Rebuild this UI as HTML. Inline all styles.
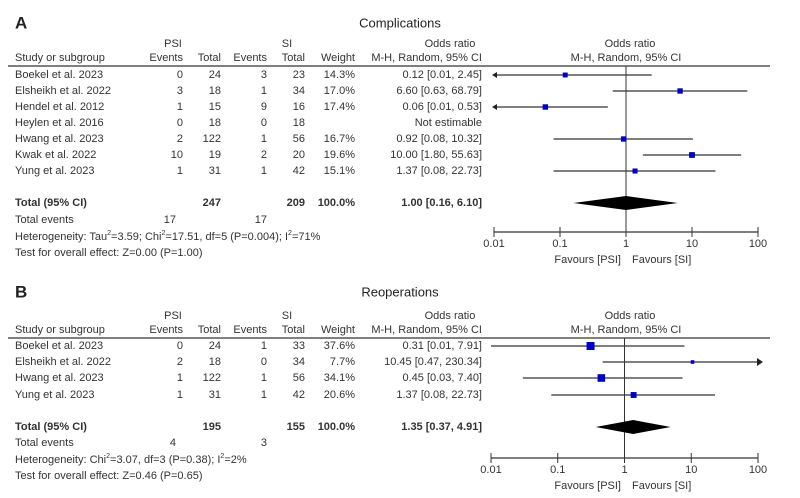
<!DOCTYPE html>
<html><head><meta charset="utf-8"><style>
body{margin:0;background:#fff}
svg{display:block;font-family:"Liberation Sans",sans-serif;font-size:11px;fill:#333}
text{dominant-baseline:central}
</style></head><body>
<svg id="chart" width="800" height="498" viewBox="0 0 800 498"></svg>
<script>
// Panel A data
const aStudies=["Boekel et al. 2023","Elsheikh et al. 2022","Hendel et al. 2012","Heylen et al. 2016","Hwang et al. 2023","Kwak et al. 2022","Yung et al. 2023"];
const aPsiEv=[0,3,1,0,2,10,1];
const aPsiTot=[24,18,15,18,122,19,31];
const aSiEv=[3,1,9,0,1,2,1];
const aSiTot=[23,34,16,18,56,20,42];
const aWeight=[14.3,17.0,17.4,null,16.7,19.6,15.1];
const aOR=[0.12,6.60,0.06,null,0.92,10.00,1.37];
const aLo=[0.01,0.63,0.01,null,0.08,1.80,0.08];
const aHi=[2.45,68.79,0.53,null,10.32,55.63,22.73];
const aTotal=[1.00,0.16,6.10];
const aSums=[247,209,17,17];
// Panel B data
const bStudies=["Boekel et al. 2023","Elsheikh et al. 2022","Hwang et al. 2023","Yung et al. 2023"];
const bPsiEv=[0,2,1,1];
const bPsiTot=[24,18,122,31];
const bSiEv=[1,0,1,1];
const bSiTot=[33,34,56,42];
const bWeight=[37.6,7.7,34.1,20.6];
const bOR=[0.31,10.45,0.45,1.37];
const bLo=[0.01,0.47,0.03,0.08];
const bHi=[7.91,230.34,7.40,22.73];
const bTotal=[1.35,0.37,4.91];
const bSums=[195,155,4,3];
const ticks=[0.01,0.1,1,10,100];
const tickLabels=["0.01","0.1","1","10","100"];

const svg=document.getElementById('chart');
const NS="http://www.w3.org/2000/svg";
function el(tag,attrs,parent){const e=document.createElementNS(NS,tag);for(const k in attrs)e.setAttribute(k,attrs[k]);(parent||svg).appendChild(e);return e;}
function txt(x,y,s,anchor,name,extra){const t=el('text',Object.assign({x:x,y:y,'text-anchor':anchor||'start'},extra||{}));t.textContent=s;


return t;}
const fmt=v=>v.toFixed(2);

function panel(o){
  const xs=v=>o.x1+(Math.log10(v)+2)/4*(o.x100-o.x1);
  txt(15,o.labelY,o.letter,'start','panel-letter',{'font-size':'17','font-weight':'bold',fill:'#222'});
  txt(400,o.labelY,o.title,'middle','panel-title',{'font-size':'13',fill:'#222'});
  txt(173,o.h1,'PSI','middle','psi-header');
  txt(287,o.h1,'SI','middle','si-header');
  txt(630,o.h1,'Odds ratio','middle','plot-header');
  txt(450,o.h1,'Odds ratio','middle','or-header');
  txt(15,o.h2,'Study or subgroup','start','study-header');
  txt(183,o.h2,'Events','end','psi-events-header');
  txt(221,o.h2,'Total','end','psi-total-header');
  txt(267,o.h2,'Events','end','si-events-header');
  txt(305,o.h2,'Total','end','si-total-header');
  txt(355,o.h2,'Weight','end','weight-header');
  txt(482,o.h2,'M-H, Random, 95% CI','end','or-method-header');
  txt(626,o.h2,'M-H, Random, 95% CI','middle','plot-method-header');
  const hl=el('line',{x1:8,x2:770,y1:o.line,y2:o.line,stroke:'#333','stroke-width':1.2});
  
  const zl=el('line',{x1:xs(1),x2:xs(1),y1:o.line,y2:o.axisY,stroke:'#333','stroke-width':1});
  
  o.studies.forEach((s,i)=>{
    const y=o.rows[i];
    txt(15,y,s,'start','study-name');
    txt(183,y,String(o.pe[i]),'end','psi-events');
    txt(221,y,String(o.pt[i]),'end','psi-total');
    txt(267,y,String(o.se[i]),'end','si-events');
    txt(305,y,String(o.st[i]),'end','si-total');
    if(o.or[i]==null){txt(482,y,'Not estimable','end','effect-estimate');return;}
    txt(355,y,o.w[i].toFixed(1)+'%','end','weight-value');
    txt(482,y,fmt(o.or[i])+' ['+fmt(o.lo[i])+', '+fmt(o.hi[i])+']','end','effect-estimate');
    let lx=xs(o.lo[i]),hx=xs(o.hi[i]);const minx=xs(0.01),maxx=xs(100);
    const la=o.leftArrow?lx<=minx+0.5:lx<minx,ra=hx>maxx;
    lx=Math.max(lx,minx);
    hx=Math.min(hx,maxx+2);
    const ci=el('line',{x1:lx,x2:hx,y1:y,y2:y,stroke:'#333','stroke-width':1.2});
    
    if(la){const a=el('polygon',{points:`${lx-2},${y} ${lx+3},${y-3} ${lx+3},${y+3}`,fill:'#222'});}
    if(ra){const a=el('polygon',{points:`${hx+3},${y} ${hx-3},${y-4} ${hx-3},${y+4}`,fill:'#222'});}
    const sz=Math.sqrt(o.w[i])*o.sq;
    const r=el('rect',{x:xs(o.or[i])-sz/2,y:y-sz/2,width:sz,height:sz,fill:'#0000c0'});
    
  });
  txt(15,o.totY,'Total (95% CI)','start','total-label',{'font-weight':'bold'});
  txt(221,o.totY,String(o.sums[0]),'end','psi-total-sum',{'font-weight':'bold'});
  txt(305,o.totY,String(o.sums[1]),'end','si-total-sum',{'font-weight':'bold'});
  txt(355,o.totY,'100.0%','end','weight-sum',{'font-weight':'bold'});
  txt(482,o.totY,fmt(o.tot[0])+' ['+fmt(o.tot[1])+', '+fmt(o.tot[2])+']','end','pooled-estimate',{'font-weight':'bold'});
  const d=el('polygon',{points:`${xs(o.tot[1])},${o.totY} ${xs(o.tot[0])},${o.totY-7} ${xs(o.tot[2])},${o.totY} ${xs(o.tot[0])},${o.totY+7}`,fill:'#000'});
  
  txt(15,o.evY,'Total events','start','total-events-label');
  txt(176,o.evY,String(o.sums[2]),'end','psi-events-sum');
  txt(267,o.evY,String(o.sums[3]),'end','si-events-sum');
  const h=txt(15,o.evY+17,'','start','heterogeneity-text');
  h.innerHTML=o.het;
  txt(15,o.evY+33,o.test,'start','overall-effect-text');
  const ax=el('line',{x1:xs(0.01),x2:xs(100),y1:o.axisY,y2:o.axisY,stroke:'#333','stroke-width':1.2});
  
  ticks.forEach((t,i)=>{
    const tk=el('line',{x1:xs(t),x2:xs(t),y1:o.axisY-5,y2:o.axisY+5,stroke:'#333'});
    
    txt(xs(t),o.axisY+12,tickLabels[i],'middle','x-tick-label');
  });
  txt(621,o.axisY+28,'Favours [PSI]','end','favours-psi-label');
  txt(632,o.axisY+28,'Favours [SI]','start','favours-si-label');
}
panel({letter:'A',title:'Complications',labelY:23,h1:44,h2:58,line:66,leftArrow:true,
  studies:aStudies,pe:aPsiEv,pt:aPsiTot,se:aSiEv,st:aSiTot,w:aWeight,or:aOR,lo:aLo,hi:aHi,tot:aTotal,sums:aSums,
  rows:[75,91,107,123,139,155,171],totY:203,evY:220,axisY:232,x1:494,x100:758,sq:1.3,
  het:'Heterogeneity: Tau<tspan baseline-shift="super" font-size="7">2</tspan>=3.59; Chi<tspan baseline-shift="super" font-size="7">2</tspan>=17.51, df=5 (P=0.004); I<tspan baseline-shift="super" font-size="7">2</tspan>=71%',
  test:'Test for overall effect: Z=0.00 (P=1.00)'});
panel({letter:'B',title:'Reoperations',labelY:292,h1:316,h2:330,line:338,leftArrow:false,
  studies:bStudies,pe:bPsiEv,pt:bPsiTot,se:bSiEv,st:bSiTot,w:bWeight,or:bOR,lo:bLo,hi:bHi,tot:bTotal,sums:bSums,
  rows:[346,362,378,395],totY:427,evY:443,axisY:458,x1:491,x100:758,sq:1.3,
  het:'Heterogeneity: Chi<tspan baseline-shift="super" font-size="7">2</tspan>=3.07, df=3 (P=0.38); I<tspan baseline-shift="super" font-size="7">2</tspan>=2%',
  test:'Test for overall effect: Z=0.46 (P=0.65)'});
</script>
</body></html>
